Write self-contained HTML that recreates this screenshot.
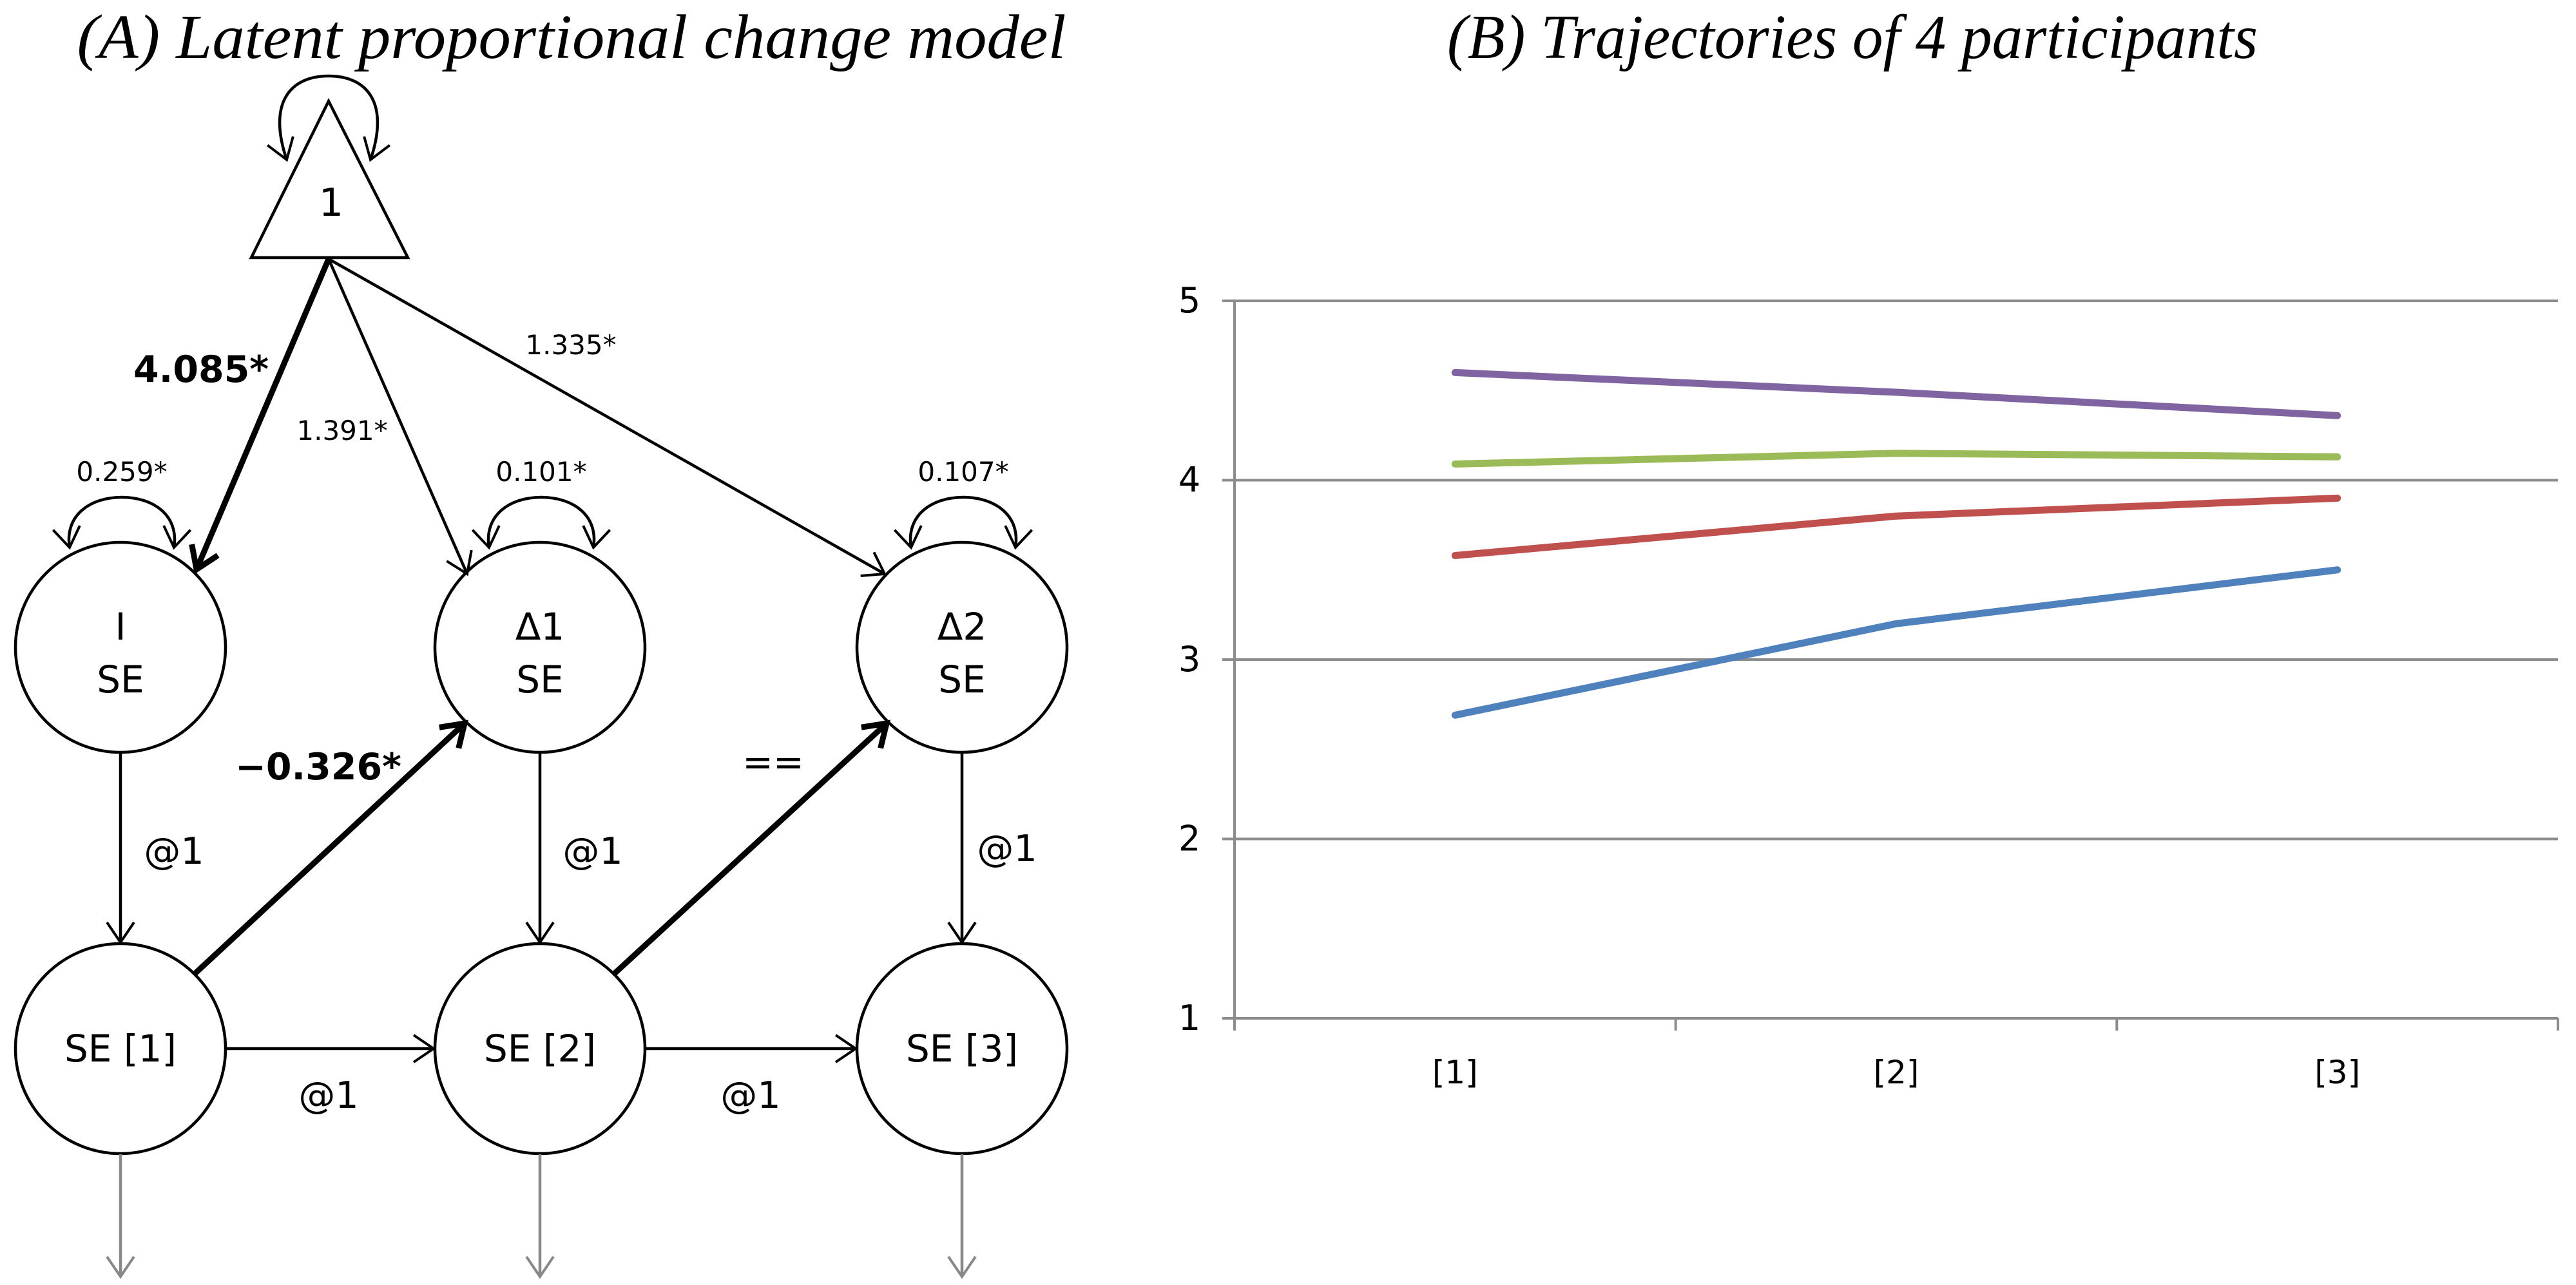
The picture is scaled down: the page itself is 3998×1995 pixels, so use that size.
<!DOCTYPE html>
<html><head><meta charset="utf-8"><style>
html,body{margin:0;padding:0;background:#fff;}
svg{display:block;}
text{font-family:"DejaVu Sans","Liberation Sans",sans-serif;fill:#000;}
.t{font-family:"Liberation Serif",serif;font-style:italic;font-size:98px;}
</style></head><body>
<svg id="svg" width="3998" height="1995" viewBox="0 0 3998 1995" xmlns="http://www.w3.org/2000/svg">
<defs>
<marker id="ah" markerWidth="10" markerHeight="10" refX="9" refY="5" orient="auto" markerUnits="userSpaceOnUse" viewBox="0 0 10 10" style="overflow:visible"><path d="M-22,-16 L9,5 L-22,26" fill="none" stroke="#000" stroke-width="4"/></marker>
<marker id="ahs" markerWidth="10" markerHeight="10" refX="9" refY="5" orient="auto-start-reverse" markerUnits="userSpaceOnUse" viewBox="0 0 10 10" style="overflow:visible"><path d="M-22,-16 L9,5 L-22,26" fill="none" stroke="#000" stroke-width="4"/></marker>
<marker id="ahg" markerWidth="10" markerHeight="10" refX="9" refY="5" orient="auto" markerUnits="userSpaceOnUse" viewBox="0 0 10 10" style="overflow:visible"><path d="M-22,-16 L9,5 L-22,26" fill="none" stroke="#888" stroke-width="4"/></marker>
<marker id="ahb" markerWidth="10" markerHeight="10" refX="9" refY="5" orient="auto" markerUnits="userSpaceOnUse" viewBox="0 0 10 10" style="overflow:visible"><path d="M-24,-17 L9,5 L-24,27" fill="none" stroke="#000" stroke-width="9"/></marker>
</defs>

<text class="t" x="887" y="90" text-anchor="middle" textLength="1535" lengthAdjust="spacingAndGlyphs">(A) Latent proportional change model</text>
<text class="t" x="2875" y="90" text-anchor="middle" textLength="1258" lengthAdjust="spacingAndGlyphs">(B) Trajectories of 4 participants</text>

<g fill="none" stroke="#000" stroke-width="4.5">
  <polygon points="510,157 390,400 633,400" fill="#fff"/>
  <path d="M445,248 C415,160 450,118 510,118 C570,118 605,160 575,248" marker-start="url(#ahs)" marker-end="url(#ah)"/>

  <ellipse cx="187" cy="1005" rx="163" ry="163"/>
  <ellipse cx="838" cy="1005" rx="163" ry="163"/>
  <ellipse cx="1493" cy="1005" rx="163" ry="163"/>
  <ellipse cx="187" cy="1628" rx="163" ry="163"/>
  <ellipse cx="838" cy="1628" rx="163" ry="163"/>
  <ellipse cx="1493" cy="1628" rx="163" ry="163"/>

  <path d="M108,850 C100,800 140,772 189,772 C238,772 278,800 270,850" marker-start="url(#ahs)" marker-end="url(#ah)"/>
  <path d="M759,850 C751,800 791,772 840,772 C889,772 929,800 921,850" marker-start="url(#ahs)" marker-end="url(#ah)"/>
  <path d="M1414,850 C1406,800 1446,772 1495,772 C1544,772 1584,800 1576,850" marker-start="url(#ahs)" marker-end="url(#ah)"/>

  <line x1="510" y1="402" x2="305" y2="884" stroke-width="9" marker-end="url(#ahb)"/>
  <line x1="510" y1="402" x2="725" y2="891" marker-end="url(#ah)"/>
  <line x1="510" y1="402" x2="1373" y2="891" marker-end="url(#ah)"/>

  <line x1="187" y1="1169" x2="187" y2="1463" marker-end="url(#ah)"/>
  <line x1="838" y1="1169" x2="838" y2="1463" marker-end="url(#ah)"/>
  <line x1="1493" y1="1169" x2="1493" y2="1463" marker-end="url(#ah)"/>

  <line x1="350" y1="1628" x2="673" y2="1628" marker-end="url(#ah)"/>
  <line x1="1001" y1="1628" x2="1328" y2="1628" marker-end="url(#ah)"/>

  <line x1="302" y1="1512" x2="721" y2="1123" stroke-width="9" marker-end="url(#ahb)"/>
  <line x1="953" y1="1512" x2="1376" y2="1123" stroke-width="9" marker-end="url(#ahb)"/>

  <line x1="187" y1="1792" x2="187" y2="1982" stroke="#888" marker-end="url(#ahg)"/>
  <line x1="838" y1="1792" x2="838" y2="1982" stroke="#888" marker-end="url(#ahg)"/>
  <line x1="1493" y1="1792" x2="1493" y2="1982" stroke="#888" marker-end="url(#ahg)"/>
</g>

<g>
  <text x="514" y="335" font-size="60" text-anchor="middle">1</text>
  <text x="207" y="593" font-size="57" font-weight="bold">4.085*</text>
  <text x="531" y="683" font-size="42" text-anchor="middle">1.391*</text>
  <text x="886" y="550" font-size="42" text-anchor="middle">1.335*</text>
  <text x="189" y="747" font-size="42" text-anchor="middle">0.259*</text>
  <text x="840" y="747" font-size="42" text-anchor="middle">0.101*</text>
  <text x="1495" y="747" font-size="42" text-anchor="middle">0.107*</text>
  <text x="494" y="1210" font-size="57" font-weight="bold" text-anchor="middle">−0.326*</text>
  <text x="1200" y="1203" font-size="57" text-anchor="middle">==</text>
  <text x="270" y="1341" font-size="57" text-anchor="middle">@1</text>
  <text x="920" y="1341" font-size="57" text-anchor="middle">@1</text>
  <text x="1563" y="1337" font-size="57" text-anchor="middle">@1</text>
  <text x="510" y="1720" font-size="57" text-anchor="middle">@1</text>
  <text x="1165" y="1720" font-size="57" text-anchor="middle">@1</text>
  <g font-size="58" text-anchor="middle">
    <text x="187" y="993">I</text>
    <text x="187" y="1075">SE</text>
    <text x="838" y="993">Δ1</text>
    <text x="838" y="1075">SE</text>
    <text x="1493" y="993">Δ2</text>
    <text x="1493" y="1075">SE</text>
    <text x="187" y="1648">SE [1]</text>
    <text x="838" y="1648">SE [2]</text>
    <text x="1493" y="1648">SE [3]</text>
  </g>
</g>

<g id="chart"></g>
</svg>
<script>
const categories = ["[1]", "[2]", "[3]"];
const yTicks = [1, 2, 3, 4, 5];
const seriesNames = ["purple", "green", "red", "blue"];
const seriesColors = ["#8064a2", "#9bbb59", "#c0504d", "#4f81bd"];
const purpleValues = [4.60, 4.49, 4.36];
const greenValues = [4.09, 4.15, 4.13];
const redValues = [3.58, 3.80, 3.90];
const blueValues = [2.69, 3.20, 3.50];

const NS = "http://www.w3.org/2000/svg";
const g = document.getElementById("chart");
const X0 = 1916, X1 = 3970, YTOP = 467, YBOT = 1581, YMIN = 1, YMAX = 5;
const bandW = (X1 - X0) / categories.length;
function xPos(i) { return X0 + bandW * (i + 0.5); }
function yPos(v) { return YBOT - (v - YMIN) / (YMAX - YMIN) * (YBOT - YTOP); }
function mk(tag, attrs) { const e = document.createElementNS(NS, tag); for (const k in attrs) e.setAttribute(k, attrs[k]); g.appendChild(e); return e; }

yTicks.forEach(function (t) {
  const y = yPos(t);
  const gl = mk("line", { x1: X0 - 19, y1: y, x2: X1, y2: y, stroke: "#8c8c8c", "stroke-width": 4 });
  
  
  const tl = mk("text", { x: 1846, y: y + 18, "font-size": 54, "text-anchor": "middle", "font-family": "Liberation Sans, sans-serif" });
  tl.textContent = t;
  
  
});
const ax = mk("line", { x1: X0, y1: YTOP - 2, x2: X0, y2: YBOT + 19, stroke: "#8c8c8c", "stroke-width": 4 });


for (let i = 1; i <= categories.length; i++) {
  const xt = X0 + bandW * i;
  const tk = mk("line", { x1: xt, y1: YBOT, x2: xt, y2: YBOT + 19, stroke: "#8c8c8c", "stroke-width": 4 });
  
  
}
categories.forEach(function (c, i) {
  const t = mk("text", { x: xPos(i), y: 1682, "font-size": 50, "text-anchor": "middle", "font-family": "Liberation Sans, sans-serif" });
  t.textContent = c;
  
  
});
[purpleValues, greenValues, redValues, blueValues].forEach(function (vals, s) {
  const pts = vals.map(function (v, i) { return xPos(i) + "," + yPos(v); }).join(" ");
  const pl = mk("polyline", { points: pts, fill: "none", stroke: seriesColors[s], "stroke-width": 11, "stroke-linecap": "round", "stroke-linejoin": "round" });
  
  
});
</script>
</body></html>
